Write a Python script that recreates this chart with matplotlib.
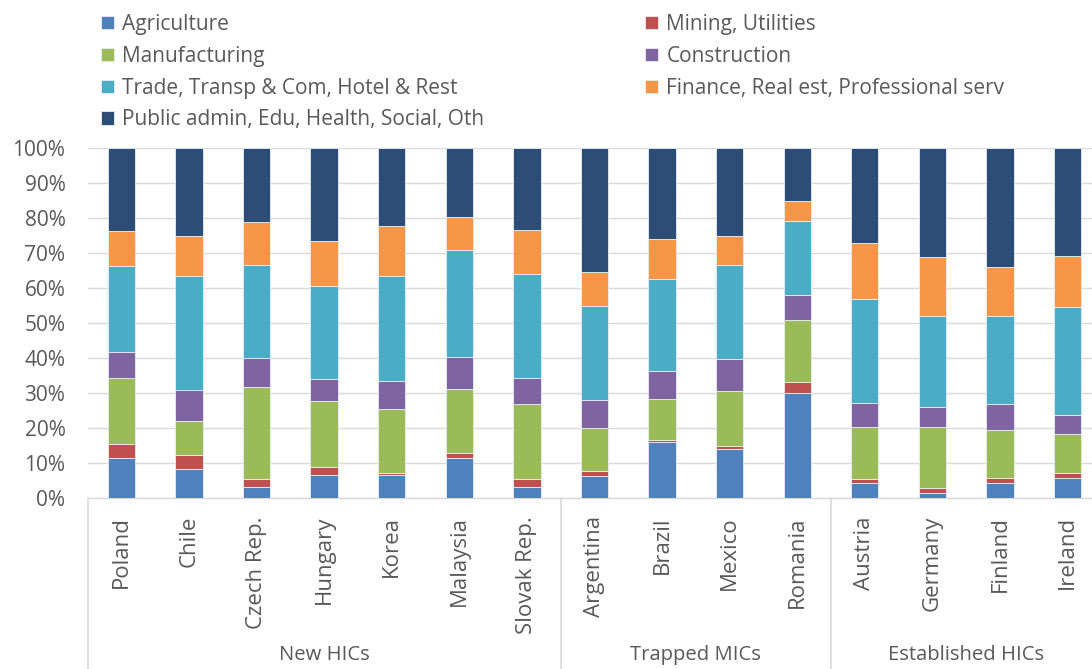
import numpy as np
import matplotlib
matplotlib.use("Agg")
import matplotlib.pyplot as plt
from matplotlib.ticker import PercentFormatter

plt.rcParams['font.family'] = ['Open Sans', 'DejaVu Sans']

countries = ['Poland', 'Chile', 'Czech Rep.', 'Hungary', 'Korea', 'Malaysia', 'Slovak Rep.',
             'Argentina', 'Brazil', 'Mexico', 'Romania',
             'Austria', 'Germany', 'Finland', 'Ireland']
groups = ['New HICs', 'Trapped MICs', 'Established HICs']
group_sizes = [7, 4, 4]

sectors = ['Agriculture', 'Mining, Utilities', 'Manufacturing', 'Construction',
           'Trade, Transp & Com, Hotel & Rest', 'Finance, Real est, Professional serv',
           'Public admin, Edu, Health, Social, Oth']
colors = ['#4F81BD', '#C0504D', '#9BBB59', '#8064A2', '#4BACC6', '#F79646', '#2C4D75']

# shares in %, one list per sector, countries in order above
agriculture = [11.3, 8.2, 3.1, 6.6, 6.7, 11.3, 3.1, 6.4, 15.9, 14.0, 30.0, 4.2, 1.3, 4.4, 5.6]
mining = [4.0, 4.2, 2.3, 2.2, 0.5, 1.6, 2.2, 1.4, 0.8, 0.9, 3.1, 1.2, 1.5, 1.2, 1.5]
manufacturing = [19.1, 9.7, 26.3, 19.0, 18.2, 18.2, 21.6, 12.3, 11.6, 15.6, 17.7, 15.0, 17.5, 13.8, 11.2]
construction = [7.2, 8.9, 8.2, 6.3, 7.9, 9.2, 7.3, 7.8, 7.9, 9.3, 7.3, 6.8, 5.6, 7.5, 5.5]
trade = [24.8, 32.5, 26.7, 26.6, 30.2, 30.6, 29.9, 26.9, 26.3, 26.9, 21.1, 29.8, 26.0, 25.2, 30.7]
finance = [9.9, 11.4, 12.2, 12.8, 14.2, 9.4, 12.5, 9.8, 11.6, 8.2, 5.6, 16.0, 17.0, 13.9, 14.6]
public = [23.7, 25.1, 21.2, 26.5, 22.3, 19.7, 23.4, 35.4, 25.9, 25.1, 15.2, 27.0, 31.1, 34.0, 30.9]

series = [agriculture, mining, manufacturing, construction, trade, finance, public]

W, H = 1092, 669
fig = plt.figure(figsize=(W / 100, H / 100), dpi=100)
left, right, bottom, top = 87.6, 1101.3, 498, 148
ax = fig.add_axes([left / W, (H - bottom) / H, (right - left) / W, (bottom - top) / H])

x = np.arange(len(countries))
base = np.zeros(len(countries))
handles = []
for vals, name, col in zip(series, sectors, colors):
    v = np.array(vals) / 100.0
    b = ax.bar(x, v, width=0.404, bottom=base, color=col, edgecolor='#e8eef5',
               linewidth=0.6, label=name, zorder=3)
    handles.append(b)
    base += v

grey = '#595959'
grid = '#d9d9d9'
ax.set_xlim(-0.5, len(countries) - 0.5)
ax.set_ylim(0, 1.0)
ax.set_yticks(np.arange(0, 1.01, 0.1))
ax.yaxis.set_major_formatter(PercentFormatter(1.0, decimals=0))
ax.yaxis.grid(True, color=grid, linewidth=1.0, zorder=0)
ax.tick_params(axis='y', length=0, pad=16, labelsize=15, labelcolor=grey)
ax.set_xticks(x)
ax.set_xticklabels(countries, rotation=90, fontsize=16, color=grey)
ax.tick_params(axis='x', length=0, pad=13)
for s in ['top', 'right', 'left']:
    ax.spines[s].set_visible(False)
ax.spines['bottom'].set_color(grid)
ax.spines['bottom'].set_linewidth(1.0)

# group separators and labels below the axis
trans = ax.get_xaxis_transform()
pos = -0.5
edges = [pos]
for n in group_sizes:
    pos += n
    edges.append(pos)
for e in edges[:-1]:
    ax.plot([e, e], [0, -0.6], transform=trans, color=grid, linewidth=1.2, clip_on=False)
for g, a, b in zip(groups, edges[:-1], edges[1:]):
    ax.text((a + b) / 2, -0.449, g, transform=trans, ha='center', va='center',
            fontsize=14.6, color=grey)

# legend: two columns, row-major order as in the source
col1 = [0, 2, 4, 6]
col2 = [1, 3, 5]
kw = dict(frameon=False, fontsize=15, labelcolor=grey, handlelength=0.63,
          handleheight=0.63, handletextpad=0.4, labelspacing=0.52, borderpad=0,
          borderaxespad=0, loc='upper left')
leg1 = fig.legend([handles[i] for i in col1], [sectors[i] for i in col1],
                  bbox_to_anchor=(101 / W, 1 - 14 / H), **kw)
leg2 = fig.legend([handles[i] for i in col2], [sectors[i] for i in col2],
                  bbox_to_anchor=(645 / W, 1 - 14 / H), **kw)

fig.savefig('out.png', dpi=100)
